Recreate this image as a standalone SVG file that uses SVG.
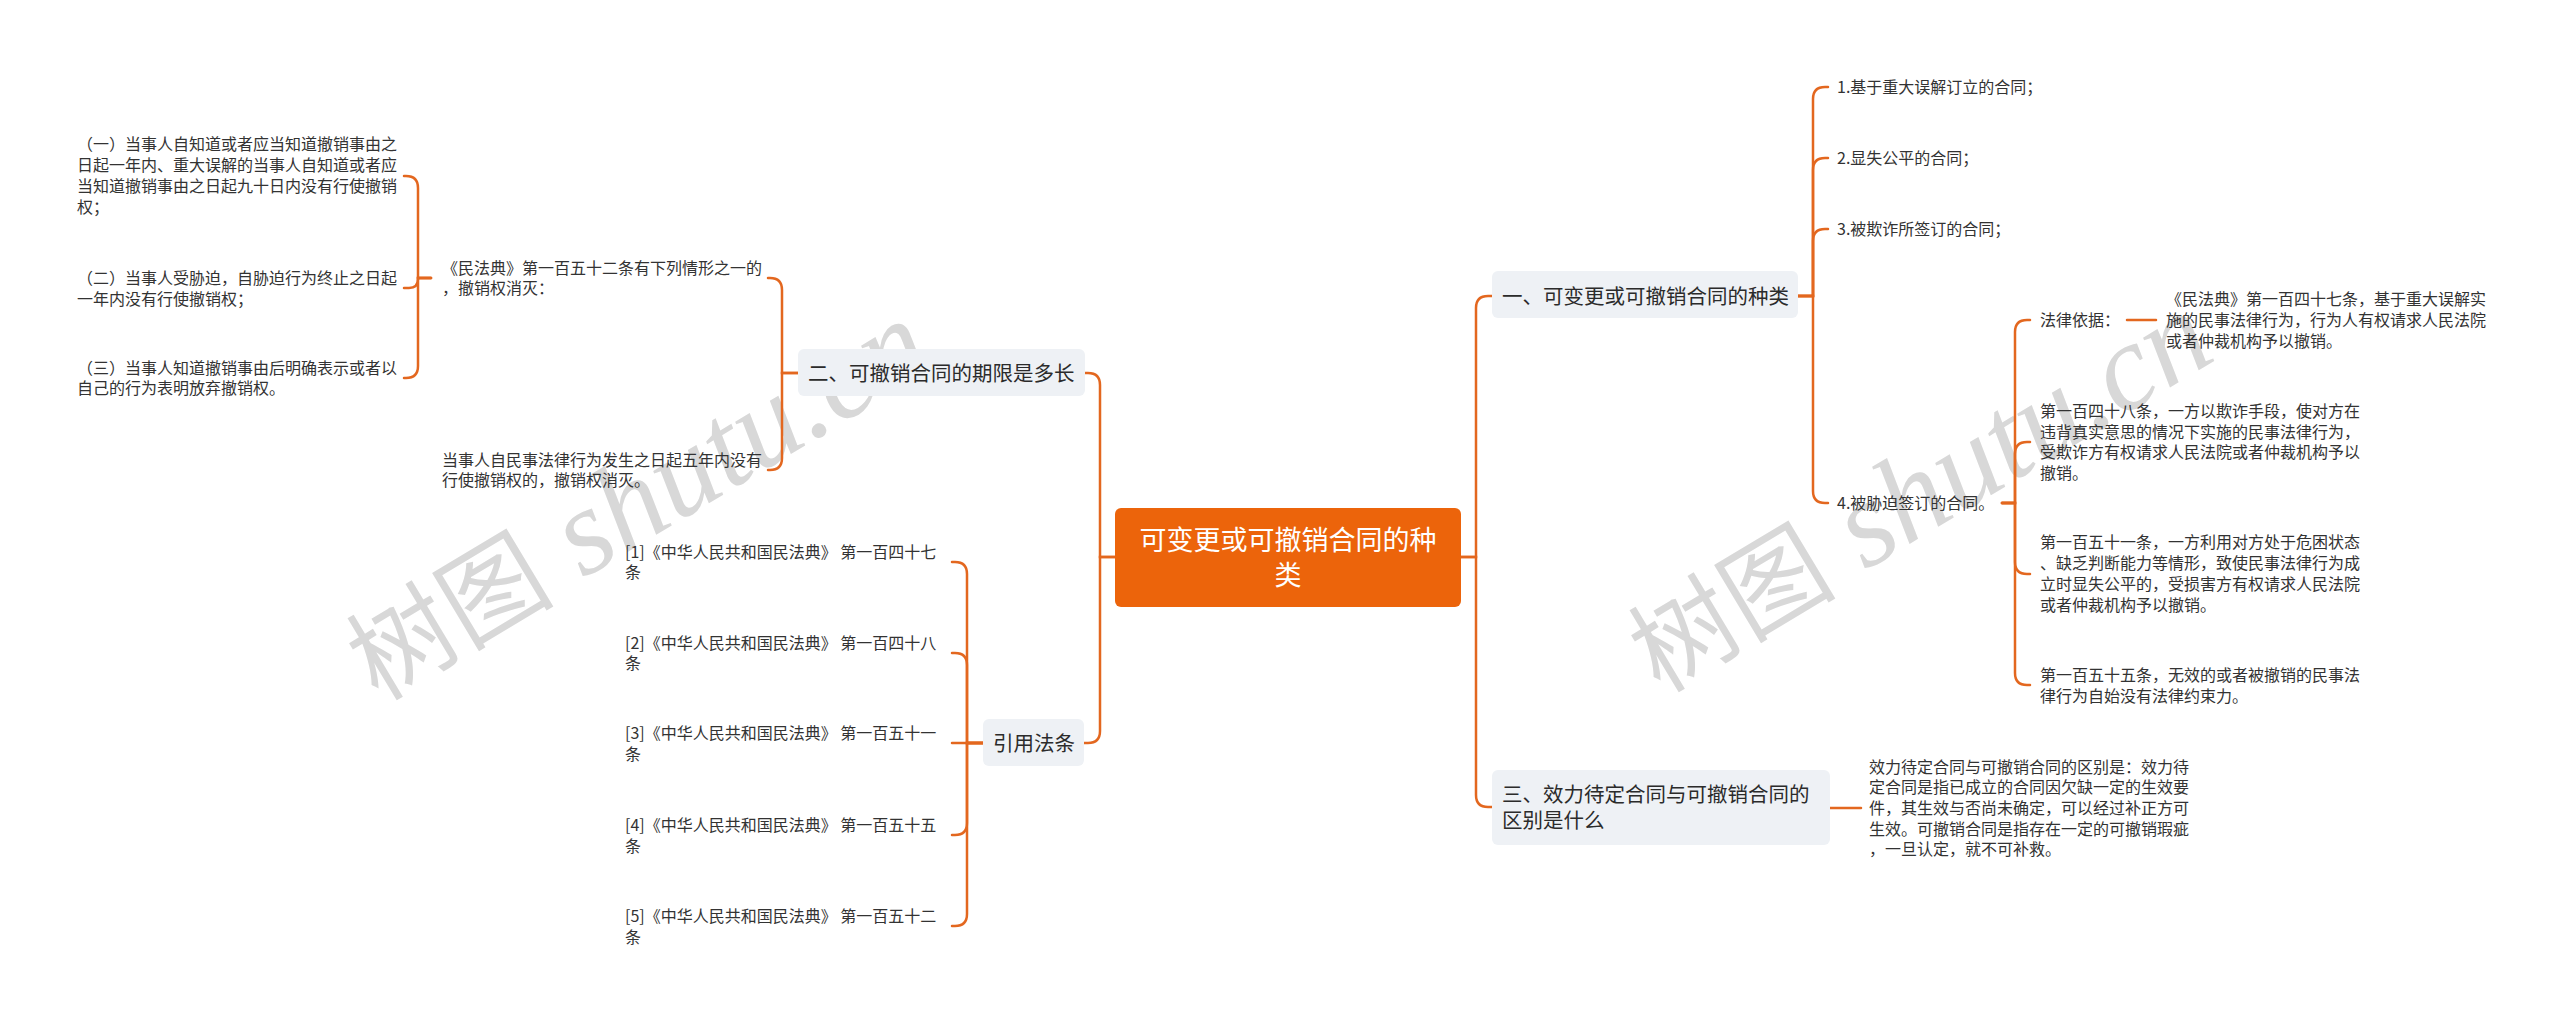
<svg xmlns="http://www.w3.org/2000/svg" width="2560" height="1022" viewBox="0 0 2560 1022">
<style>
.t{font-family:"Noto Sans CJK SC","Noto Sans",sans-serif;fill:#333;font-size:16px}
.n{font-size:20.5px;fill:#2b2b2b}
.r{font-size:27px;fill:#fff}
.box{fill:#eef1f5}
.c{fill:none;stroke:#e3671f;stroke-width:2.5;stroke-linecap:round}
.wm{font-family:"Liberation Serif",serif;font-size:123px;font-style:italic;fill:#d8d8d8}
.wmc{font-family:"Noto Sans CJK SC",sans-serif;font-size:104px;font-style:normal}
</style>
<rect width="2560" height="1022" fill="#fff"/>
<g id="watermarks">
<text class="wm" transform="translate(378,702) rotate(-31)"><tspan class="wmc">树图</tspan> shutu.cn</text>
<text class="wm" transform="translate(1660,694) rotate(-31)"><tspan class="wmc">树图</tspan> shutu.cn</text>
</g>
<g id="connectors">
<path class="c" d="M1461,557 H1476 V308 Q1476,296 1488,296 H1492"/>
<path class="c" d="M1461,557 H1476 V795 Q1476,807 1488,807 H1492"/>
<path class="c" d="M1798,296 H1813 V99 Q1813,87 1825,87 H1828"/>
<path class="c" d="M1798,296 H1813 V170 Q1813,158 1825,158 H1828"/>
<path class="c" d="M1798,296 H1813 V241 Q1813,229 1825,229 H1828"/>
<path class="c" d="M1798,296 H1813 V491 Q1813,503 1825,503 H1828"/>
<path class="c" d="M2002,503 H2015 V332 Q2015,320 2027,320 H2030"/>
<path class="c" d="M2002,503 H2015 V454 Q2015,442 2027,442 H2030"/>
<path class="c" d="M2002,503 H2015 V562 Q2015,574 2027,574 H2030"/>
<path class="c" d="M2002,503 H2015 V673 Q2015,685 2027,685 H2030"/>
<path class="c" d="M2127,320 H2156"/>
<path class="c" d="M1830,808 H1861"/>
<path class="c" d="M1115,557 H1100 V385 Q1100,373 1088,373 H1085"/>
<path class="c" d="M1115,557 H1100 V731 Q1100,743 1088,743 H1084"/>
<path class="c" d="M798,373 H782 V290 Q782,278 770,278 H768"/>
<path class="c" d="M798,373 H782 V458 Q782,470 770,470 H768"/>
<path class="c" d="M431,278 H418 V188 Q418,176 406,176 H404"/>
<path class="c" d="M431,278 H418 V279 Q418,288 409,288 H404"/>
<path class="c" d="M431,278 H418 V366 Q418,378 406,378 H404"/>
<path class="c" d="M983,743 H967 V574 Q967,562 955,562 H952"/>
<path class="c" d="M983,743 H967 V665 Q967,653 955,653 H952"/>
<path class="c" d="M983,743 H952"/>
<path class="c" d="M983,743 H967 V823 Q967,835 955,835 H952"/>
<path class="c" d="M983,743 H967 V914 Q967,926 955,926 H952"/>
</g>
<g id="root">
<rect x="1115" y="508" width="346" height="99" rx="6" fill="#ec640b"/>
<text class="t r" text-anchor="middle"><tspan x="1288" y="550">可变更或可撤销合同的种</tspan><tspan x="1288" y="585">类</tspan></text>
</g>
<g id="n1">
<rect class="box" x="1492" y="271" width="306" height="47" rx="6"/>
<text class="t n" x="1502" y="304">一、可变更或可撤销合同的种类</text>
</g>
<g id="n1-1"><text class="t" x="1837" y="93">1.基于重大误解订立的合同；</text></g>
<g id="n1-2"><text class="t" x="1837" y="164">2.显失公平的合同；</text></g>
<g id="n1-3"><text class="t" x="1837" y="235">3.被欺诈所签订的合同；</text></g>
<g id="n1-4"><text class="t" x="1837" y="509">4.被胁迫签订的合同。</text></g>
<g id="n1-4-1"><text class="t" x="2040" y="326">法律依据：</text></g>
<g id="n1-4-1-1"><text class="t"><tspan x="2166" y="305">《民法典》第一百四十七条，基于重大误解实</tspan><tspan x="2166" y="326">施的民事法律行为，行为人有权请求人民法院</tspan><tspan x="2166" y="347">或者仲裁机构予以撤销。</tspan></text></g>
<g id="n1-4-2"><text class="t"><tspan x="2040" y="417">第一百四十八条，一方以欺诈手段，使对方在</tspan><tspan x="2040" y="438">违背真实意思的情况下实施的民事法律行为，</tspan><tspan x="2040" y="458">受欺诈方有权请求人民法院或者仲裁机构予以</tspan><tspan x="2040" y="479">撤销。</tspan></text></g>
<g id="n1-4-3"><text class="t"><tspan x="2040" y="548">第一百五十一条，一方利用对方处于危困状态</tspan><tspan x="2040" y="569">、缺乏判断能力等情形，致使民事法律行为成</tspan><tspan x="2040" y="590">立时显失公平的，受损害方有权请求人民法院</tspan><tspan x="2040" y="611">或者仲裁机构予以撤销。</tspan></text></g>
<g id="n1-4-4"><text class="t"><tspan x="2040" y="681">第一百五十五条，无效的或者被撤销的民事法</tspan><tspan x="2040" y="702">律行为自始没有法律约束力。</tspan></text></g>
<g id="n3">
<rect class="box" x="1492" y="770" width="338" height="75" rx="6"/>
<text class="t n"><tspan x="1502" y="802">三、效力待定合同与可撤销合同的</tspan><tspan x="1502" y="828">区别是什么</tspan></text>
</g>
<g id="n3-1"><text class="t"><tspan x="1869" y="773">效力待定合同与可撤销合同的区别是：效力待</tspan><tspan x="1869" y="793">定合同是指已成立的合同因欠缺一定的生效要</tspan><tspan x="1869" y="814">件，其生效与否尚未确定，可以经过补正方可</tspan><tspan x="1869" y="835">生效。可撤销合同是指存在一定的可撤销瑕疵</tspan><tspan x="1869" y="855">，一旦认定，就不可补救。</tspan></text></g>
<g id="n2">
<rect class="box" x="798" y="349" width="287" height="47" rx="6"/>
<text class="t n" x="808" y="381">二、可撤销合同的期限是多长</text>
</g>
<g id="n2-1"><text class="t"><tspan x="442" y="274">《民法典》第一百五十二条有下列情形之一的</tspan><tspan x="442" y="294">，撤销权消灭：</tspan></text></g>
<g id="n2-1-1"><text class="t"><tspan x="77" y="150">（一）当事人自知道或者应当知道撤销事由之</tspan><tspan x="77" y="171">日起一年内、重大误解的当事人自知道或者应</tspan><tspan x="77" y="192">当知道撤销事由之日起九十日内没有行使撤销</tspan><tspan x="77" y="213">权；</tspan></text></g>
<g id="n2-1-2"><text class="t"><tspan x="77" y="284">（二）当事人受胁迫，自胁迫行为终止之日起</tspan><tspan x="77" y="305">一年内没有行使撤销权；</tspan></text></g>
<g id="n2-1-3"><text class="t"><tspan x="77" y="374">（三）当事人知道撤销事由后明确表示或者以</tspan><tspan x="77" y="394">自己的行为表明放弃撤销权。</tspan></text></g>
<g id="n2-2"><text class="t"><tspan x="442" y="466">当事人自民事法律行为发生之日起五年内没有</tspan><tspan x="442" y="486">行使撤销权的，撤销权消灭。</tspan></text></g>
<g id="n4">
<rect class="box" x="983" y="719" width="101" height="47" rx="6"/>
<text class="t n" x="993" y="751">引用法条</text>
</g>
<g id="n4-1"><text class="t"><tspan x="625" y="558">[1]《中华人民共和国民法典》 第一百四十七</tspan><tspan x="625" y="578">条</tspan></text></g>
<g id="n4-2"><text class="t"><tspan x="625" y="649">[2]《中华人民共和国民法典》 第一百四十八</tspan><tspan x="625" y="669">条</tspan></text></g>
<g id="n4-3"><text class="t"><tspan x="625" y="739">[3]《中华人民共和国民法典》 第一百五十一</tspan><tspan x="625" y="760">条</tspan></text></g>
<g id="n4-4"><text class="t"><tspan x="625" y="831">[4]《中华人民共和国民法典》 第一百五十五</tspan><tspan x="625" y="852">条</tspan></text></g>
<g id="n4-5"><text class="t"><tspan x="625" y="922">[5]《中华人民共和国民法典》 第一百五十二</tspan><tspan x="625" y="943">条</tspan></text></g>
</svg>
